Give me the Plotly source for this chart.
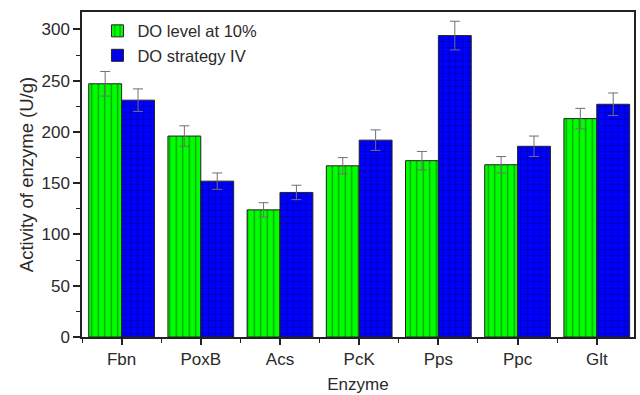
import plotly.graph_objects as go

enzymes = ["Fbn", "PoxB", "Acs", "PcK", "Pps", "Ppc", "Glt"]
do_level_10 = [247, 196, 124, 167, 172, 168, 213]
do_level_10_err = [12, 10, 7, 8, 9, 8, 10]
do_strategy_iv = [231, 152, 141, 192, 294, 186, 227]
do_strategy_iv_err = [11, 8, 7, 10, 14, 10, 11]

xpos = list(range(len(enzymes)))
font = "Liberation Sans, Arial, sans-serif"

fig = go.Figure()
fig.add_trace(go.Bar(
    x=xpos, y=do_level_10, name="DO level at 10%",
    marker=dict(color="#00ff00", line=dict(color="#222222", width=1),
                pattern=dict(shape="|", fgcolor="#143a14", size=6.5, solidity=0.2)),
    error_y=dict(type="data", array=do_level_10_err, color="#707070", thickness=1, width=5),
))
fig.add_trace(go.Bar(
    x=xpos, y=do_strategy_iv, name="DO strategy IV",
    marker=dict(color="#0000ff", line=dict(color="#222222", width=1),
                pattern=dict(shape="+", fgcolor="#000000", size=6.5, solidity=0.15)),
    error_y=dict(type="data", array=do_strategy_iv_err, color="#707070", thickness=1, width=5),
))

fig.update_layout(
    width=640, height=395,
    margin=dict(l=82, r=4, t=12, b=56),
    paper_bgcolor="white", plot_bgcolor="white",
    barmode="group", bargap=0.17, bargroupgap=0,
    font=dict(family=font, size=17, color="#2a2a2a"),
    showlegend=True,
    legend=dict(x=0.028, y=0.995, xanchor="left", yanchor="top",
                bgcolor="rgba(0,0,0,0)", font=dict(size=16.5),
                tracegroupgap=0, itemwidth=30),
)
fig.update_xaxes(
    range=[-0.5, 6.47], tickmode="array", tickvals=xpos, ticktext=enzymes,
    showline=True, linecolor="#222222", linewidth=1.5, mirror=True,
    ticks="outside", ticklen=6, tickwidth=1.5, tickcolor="#222222",
    tickfont=dict(size=17),
    minor=dict(tickmode="array", tickvals=[i + 0.5 for i in xpos[:-1]] + [-0.5],
               ticks="outside", ticklen=4, tickcolor="#222222", tickwidth=1.2),
    showgrid=False, zeroline=False,
    title=dict(text="Enzyme", font=dict(size=17), standoff=10),
)
fig.update_yaxes(
    range=[0, 317], dtick=50, tick0=0,
    showline=True, linecolor="#222222", linewidth=1.5, mirror=True,
    ticks="outside", ticklen=7, tickwidth=1.5, tickcolor="#222222",
    tickfont=dict(size=17),
    minor=dict(dtick=25, ticks="outside", ticklen=4, tickcolor="#222222", tickwidth=1.2),
    showgrid=False, zeroline=False,
    title=dict(text="Activity of enzyme (U/g)", font=dict(size=18.5), standoff=3),
)

fig.write_html("out.html", config={"displayModeBar": False},
               post_script="document.body.style.margin='0';document.body.style.padding='0';")
